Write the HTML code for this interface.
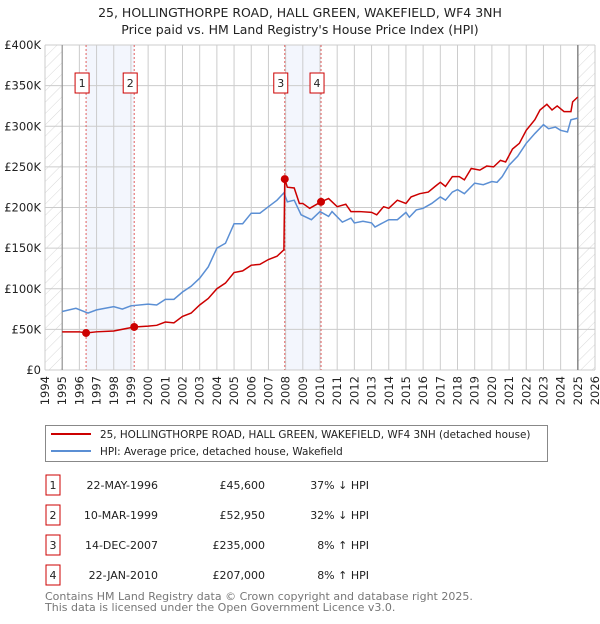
<!DOCTYPE html>
<html><head><meta charset="utf-8"><style>
body{margin:0;background:#fff;font-family:"DejaVu Sans","Liberation Sans",sans-serif;}
svg text{font-family:"DejaVu Sans","Liberation Sans",sans-serif;}
</style></head><body>
<svg id="chart" width="600" height="620" xmlns="http://www.w3.org/2000/svg">
<defs><pattern id="hatch" width="8" height="8" patternUnits="userSpaceOnUse" patternTransform="rotate(45)"><line x1="0" y1="0" x2="0" y2="8" stroke="#d8d8d8" stroke-width="1"/></pattern></defs>
<text x="300" y="17" text-anchor="middle" font-size="12.5" fill="#222">25, HOLLINGTHORPE ROAD, HALL GREEN, WAKEFIELD, WF4 3NH</text>
<text x="300" y="34" text-anchor="middle" font-size="12.5" fill="#222">Price paid vs. HM Land Registry's House Price Index (HPI)</text>
<g id="plot"></g>
<rect x="45.5" y="425.5" width="502" height="36" fill="#fff" stroke="#888"/>
<line x1="51" y1="434" x2="91" y2="434" stroke="#cc0000" stroke-width="2"/>
<text x="100" y="438" font-size="10.4" fill="#222">25, HOLLINGTHORPE ROAD, HALL GREEN, WAKEFIELD, WF4 3NH (detached house)</text>
<line x1="51" y1="451" x2="91" y2="451" stroke="#5b8fd4" stroke-width="2"/>
<text x="100" y="455" font-size="10.4" fill="#222">HPI: Average price, detached house, Wakefield</text>
<g id="table"></g>
<text x="45" y="600" font-size="11" fill="#777">Contains HM Land Registry data © Crown copyright and database right 2025.</text>
<text x="45" y="611" font-size="11" fill="#777">This data is licensed under the Open Government Licence v3.0.</text>
</svg>
<script>
const hpiYears=[1995,1995.8,1996.5,1997,1998,1998.5,1999,2000,2000.5,2001,2001.5,2002,2002.5,2003,2003.5,2004,2004.5,2005,2005.5,2006,2006.5,2007,2007.5,2007.9,2008.1,2008.5,2008.9,2009.5,2010,2010.5,2010.7,2011.3,2011.8,2012,2012.5,2013,2013.2,2014,2014.5,2015,2015.2,2015.6,2016,2016.5,2017,2017.3,2017.7,2018,2018.4,2019,2019.5,2020,2020.3,2020.6,2021,2021.5,2022,2022.5,2023,2023.3,2023.7,2024,2024.4,2024.6,2025];
const hpiValues=[72,76,70,74,78,75,79,81,80,87,87,96,103,113,127,150,156,180,180,193,193,201,209,218,207,209,191,185,195,189,195,182,187,181,183,181,176,185,185,194,188,197,199,205,213,209,219,222,217,230,228,232,231,238,252,263,279,291,302,297,299,295,293,308,310];
const priceYears=[1995,1996,1996.39,1997,1998,1999.19,2000,2000.5,2001,2001.5,2002,2002.5,2003,2003.5,2004,2004.5,2005,2005.5,2006,2006.5,2007,2007.5,2007.9,2007.95,2008.1,2008.5,2008.8,2009,2009.4,2010.06,2010.5,2011,2011.5,2011.8,2012.3,2013,2013.3,2013.7,2014,2014.5,2015,2015.3,2015.8,2016.3,2016.7,2017,2017.3,2017.7,2018.1,2018.4,2018.8,2019.3,2019.7,2020.1,2020.5,2020.8,2021.2,2021.6,2022,2022.5,2022.8,2023.2,2023.5,2023.8,2024.2,2024.6,2024.7,2025];
const priceValues=[47,47,45.6,47,48,52.95,54,55,59,58,66,70,80,88,100,107,120,122,129,130,136,140,148,235,225,224,205,205,199,207,211,201,204,195,195,194,191,201,199,209,205,213,217,219,226,231,226,238,238,234,248,246,251,250,258,256,272,279,295,308,320,327,320,325,318,318,330,336];
const saleYears=[1996.39,1999.19,2007.95,2010.06];
const saleValues=[45.6,52.95,235,207];
const saleLabels=["1","2","3","4"];
const saleDates=["22-MAY-1996","10-MAR-1999","14-DEC-2007","22-JAN-2010"];
const salePrices=["£45,600","£52,950","£235,000","£207,000"];
const saleDiffs=["37% ↓ HPI","32% ↓ HPI","8% ↑ HPI","8% ↑ HPI"];
const yTicks=[0,50,100,150,200,250,300,350,400];
const yTickLabels=["£0","£50K","£100K","£150K","£200K","£250K","£300K","£350K","£400K"];
const xTicks=[1994,1995,1996,1997,1998,1999,2000,2001,2002,2003,2004,2005,2006,2007,2008,2009,2010,2011,2012,2013,2014,2015,2016,2017,2018,2019,2020,2021,2022,2023,2024,2025,2026];

const L=45,R=595,T=45,B=370;
const xs=y=>L+(y-1994)/(2026-1994)*(R-L);
const ys=v=>B-v/400*(B-T);
const NS="http://www.w3.org/2000/svg";
const plot=document.getElementById('plot');
function mk(tag,attrs,parent,txt){const e=document.createElementNS(NS,tag);for(const k in attrs)e.setAttribute(k,attrs[k]);if(txt!==undefined)e.textContent=txt;(parent||plot).appendChild(e);return e;}

mk('rect',{x:L,y:T,width:R-L,height:B-T,fill:'#fff'});
[[0,1],[2,3]].forEach(p=>{const r=mk('rect',{x:xs(saleYears[p[0]]),y:T,width:xs(saleYears[p[1]])-xs(saleYears[p[0]]),height:B-T,fill:'#f3f6fd'});

});
mk('rect',{x:L,y:T,width:xs(1995)-L,height:B-T,fill:'url(#hatch)'});
mk('rect',{x:xs(2025),y:T,width:R-xs(2025),height:B-T,fill:'url(#hatch)'});
xTicks.forEach((t,i)=>{mk('line',{x1:xs(t),x2:xs(t),y1:T,y2:B,stroke:'#ccc','stroke-width':1});
const tx=mk('text',{x:0,y:0,'font-size':11.5,fill:'#222','text-anchor':'end',transform:`translate(${xs(t)+4},${B+6}) rotate(-90)`},plot,String(t));

});
yTicks.forEach((t,i)=>{mk('line',{x1:L,x2:R,y1:ys(t),y2:ys(t),stroke:'#ccc','stroke-width':1});
const tx=mk('text',{x:L-4,y:ys(t)+4,'font-size':11.5,fill:'#222','text-anchor':'end'},plot,yTickLabels[i]);

});
mk('line',{x1:xs(1995),x2:xs(1995),y1:T,y2:B,stroke:'#888','stroke-width':1});
mk('line',{x1:xs(2025),x2:xs(2025),y1:T,y2:B,stroke:'#888','stroke-width':1.5});
saleYears.forEach(y=>mk('line',{x1:xs(y),x2:xs(y),y1:T,y2:B,stroke:'#e06060','stroke-width':1,'stroke-dasharray':'2,2'}));
const hp=mk('polyline',{points:hpiYears.map((y,i)=>xs(y)+','+ys(hpiValues[i])).join(' '),fill:'none',stroke:'#5b8fd4','stroke-width':1.5});


const pp=mk('polyline',{points:priceYears.map((y,i)=>xs(y)+','+ys(priceValues[i])).join(' '),fill:'none',stroke:'#cc0000','stroke-width':1.5});


saleYears.forEach((y,i)=>{const c=mk('circle',{cx:xs(y),cy:ys(saleValues[i]),r:4,fill:'#cc0000'});


const g=mk('g',{});


mk('rect',{x:xs(y)-11,y:73,width:14,height:20,fill:'#fff',stroke:'#cc0000'},g);
mk('text',{x:xs(y)-4,y:87,'font-size':11,'text-anchor':'middle',fill:'#222'},g,saleLabels[i]);});
const tb=document.getElementById('table');
saleLabels.forEach((s,i)=>{const y=485+i*30;
const row=mk('g',{},tb);


mk('rect',{x:46,y:y-10,width:14,height:20,fill:'#fff',stroke:'#cc0000'},row);
mk('text',{x:53,y:y+4,'font-size':11,'text-anchor':'middle',fill:'#222'},row,s);
mk('text',{x:158,y:y+4,'font-size':11,'text-anchor':'end',fill:'#222'},row,saleDates[i]);
mk('text',{x:265,y:y+4,'font-size':11,'text-anchor':'end',fill:'#222'},row,salePrices[i]);
mk('text',{x:369,y:y+4,'font-size':11,'text-anchor':'end',fill:'#222'},row,saleDiffs[i]);});
</script>
</body></html>
